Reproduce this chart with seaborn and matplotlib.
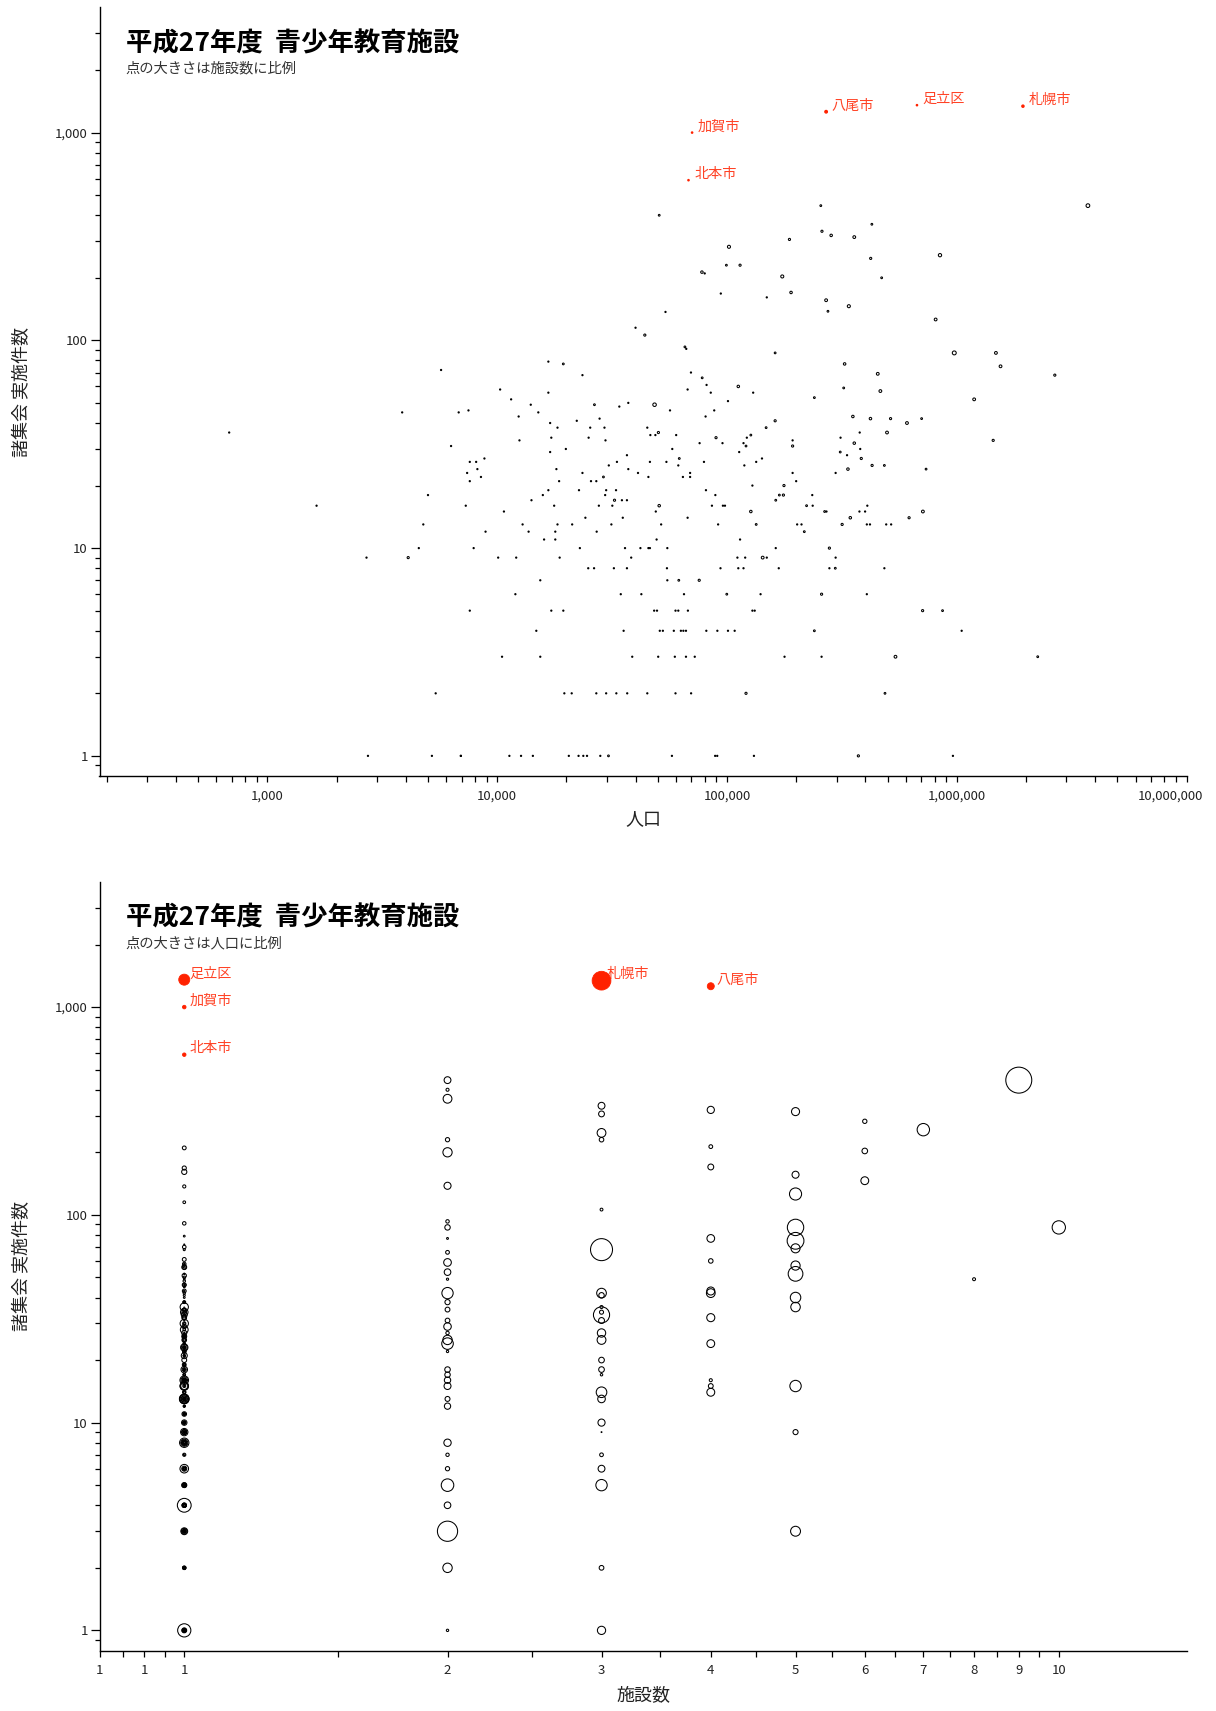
# 平成27年度 青少年教育施設 - 人口 / 施設数 と 諸集会 実施件数 の散布図 (2段)
import numpy as np
import pandas as pd
import matplotlib
matplotlib.use('Agg')
import matplotlib.pyplot as plt
from matplotlib.ticker import FixedLocator, FuncFormatter, NullFormatter
from matplotlib.transforms import ScaledTranslation
import seaborn as sns

# 施設数ごとの 人口(千人) と 諸集会 実施件数
pop_f1 = [16.7, 5.7, 23.5, 10.3, 16.7, 11.5, 14.0, 3.86, 6.8, 7.5, 12.4, 15.1, 22.2, 27.9,
          17.0, 18.3, 25.4, 29.3, 17.2, 25.0, 29.6, 12.5, 6.3, 17.0, 19.9, 8.8, 7.6, 8.1,
          8.2, 7.4, 8.5, 18.1, 23.5, 30.6,
          80, 94, 149, 54, 40, 66.5, 69.7, 81.5, 67.4, 85, 130, 34, 37.2, 56.5, 101, 88,
          80.7, 45, 46.4, 48.8, 60.1, 76, 95.6, 118, 122, 193, 312, 57.8, 36.7, 113, 333,
          142, 33.2, 46.2, 54.5, 79.4, 61.4, 119, 134, 37.2, 41, 45.5, 64.3, 69.1, 69.1,
          193, 297, 378, 380,
          7.6, 18.6, 25.6, 27.0, 5.0, 16.7, 15.8, 22.7, 29.8, 29.5, 14.1, 7.3, 17.7, 27.7,
          10.7, 24.2, 4.77, 12.9, 18.3, 21.2, 8.9, 13.7, 17.9, 27.1, 16.0, 17.9, 4.56, 7.9,
          22.9, 2.7, 10.1, 12.1, 18.7, 24.9, 26.4, 15.4, 12.0, 7.6, 17.2, 19.4, 14.8, 10.5,
          15.4, 5.4, 19.6, 21.1, 27.0, 29.8,
          2.74, 5.2, 6.95, 6.95, 11.3, 12.7, 14.3, 20.5, 22.6, 23.7, 24.6, 28.1, 131,
          200, 129, 32.9, 81, 89, 235, 34.9, 36.7, 31.7, 86, 96, 98, 236, 49, 271, 35.2,
          67.4, 31.4, 51.7, 91.5, 202, 211, 49.4, 114, 36, 42, 45.5, 46.2, 55, 163, 38.3,
          111, 120, 149, 297, 32.2, 36.7, 54.8, 93.7, 112, 118, 168, 279, 55, 34.5, 42.4,
          65, 140, 48.2, 49.6, 59.7, 61.4, 67.6, 129, 132, 35.5, 51, 52.6, 58.7, 63, 64.6,
          66.3, 81.3, 90.8, 101, 108, 38.7, 50.2, 59.3, 66.3, 72.4, 178, 258, 33, 36.8, 45,
          59.7, 69.8, 57.6, 88.8, 90.7,
          408, 377, 399, 406, 419, 493, 518, 484, 406, 1050, 962, 0.682, 1.637]
ev_f1 = [79, 72, 68, 58, 56, 52, 49, 45, 45, 46, 43, 45, 41, 42,
         40, 38, 38, 38, 34, 34, 33, 33, 31, 29, 30, 27, 26, 26,
         24, 23, 22, 24, 23, 25,
         210, 168, 161, 137, 115, 91, 70, 61, 58, 56, 56, 48, 50, 46, 51, 46,
         43, 38, 35, 35, 35, 32, 32, 32, 34, 33, 34, 30, 28, 29, 28,
         27, 26, 26, 26, 26, 25, 25, 26, 24, 23, 22, 22, 23, 22,
         23, 23, 36, 30,
         21, 21, 21, 21, 18, 19, 18, 19, 19, 18, 17, 16, 16, 16,
         15, 14, 13, 13, 13, 13, 12, 12, 12, 12, 11, 11, 10, 10,
         10, 9, 9, 9, 9, 8, 8, 7, 6, 5, 5, 5, 4, 3,
         3, 2, 2, 2, 2, 2,
         1, 1, 1, 1, 1, 1, 1, 1, 1, 1, 1, 1, 1,
         21, 20, 19, 19, 18, 18, 17, 17, 16, 16, 16, 16, 16, 15, 15, 14,
         14, 13, 13, 13, 13, 13, 11, 11, 10, 10, 10, 10, 10, 10, 9,
         9, 9, 9, 9, 8, 8, 8, 8, 8, 8, 8, 8, 7, 6, 6,
         6, 6, 5, 5, 5, 5, 5, 5, 5, 4, 4, 4, 4, 4, 4,
         4, 4, 4, 4, 4, 3, 3, 3, 3, 3, 3, 3, 2, 2, 2,
         2, 2, 1, 1, 1,
         16, 15, 15, 13, 13, 13, 13, 8, 6, 4, 1, 36, 16]

pop_f2 = [256, 50.7, 427, 99.4, 471, 275, 65.6, 162, 19.4, 78, 322, 240, 26.5, 703, 148,
          127, 121, 311, 62, 484, 735, 29.0, 169, 163, 222, 266, 134, 217, 296, 61.7,
          99.8, 867, 240, 2250, 487, 30.5]
ev_f2 = [445, 400, 362, 230, 200, 138, 93, 87, 77, 66, 59, 53, 49, 42, 38,
         35, 31, 29, 27, 25, 24, 22, 18, 17, 16, 15, 13, 12, 8, 7,
         6, 5, 4, 3, 2, 1]

pop_f3 = [259, 187, 422, 114, 43.9, 2670, 515, 162, 50.3, 89.6, 1440, 193, 384, 428, 177,
          176, 32.4, 620, 317, 279, 4.1, 75.7, 258, 710, 121, 373]
ev_f3 = [335, 306, 248, 230, 106, 68, 42, 41, 36, 34, 33, 31, 27, 25, 20,
         18, 17, 14, 13, 10, 9, 7, 6, 5, 2, 1]

pop_f4 = [284, 77.8, 190, 325, 112, 353, 421, 358, 336, 50.7, 127, 344]
ev_f4 = [320, 213, 170, 77, 60, 43, 42, 32, 24, 16, 15, 14]

pop_f5 = [358, 270, 809, 1480, 1550, 453, 465, 1190, 607, 497, 712, 143, 541]
ev_f5 = [314, 156, 126, 87, 75, 69, 57, 52, 40, 36, 15, 9, 3]

pop_f6 = [102, 174, 339]
ev_f6 = [282, 203, 146]

pop_f7, ev_f7 = [845], [257]
pop_f8, ev_f8 = [48.4], [49]
pop_f9, ev_f9 = [3720], [445]
pop_f10, ev_f10 = [975], [87]

# 赤で強調する自治体
hl_names = ['札幌市', '足立区', '八尾市', '加賀市', '北本市']
hl_fac = [3, 1, 4, 1, 1]
hl_pop_k = [1940, 671, 270, 70.5, 68]
hl_events = [1340, 1355, 1260, 1000, 590]

groups = [(1, pop_f1, ev_f1), (2, pop_f2, ev_f2), (3, pop_f3, ev_f3), (4, pop_f4, ev_f4),
          (5, pop_f5, ev_f5), (6, pop_f6, ev_f6), (7, pop_f7, ev_f7), (8, pop_f8, ev_f8),
          (9, pop_f9, ev_f9), (10, pop_f10, ev_f10)]
rows = []
for f, pops, evs in groups:
    for p, e in zip(pops, evs):
        rows.append((f, p * 1000, e))
df = pd.DataFrame(rows, columns=['施設数', '人口', '件数'])
hl = pd.DataFrame({'name': hl_names, '施設数': hl_fac,
                   '人口': np.array(hl_pop_k) * 1000, '件数': hl_events})

RED = '#ff2200'
FAC_K = 0.8        # pt^2 per facility
POP_K = 9.4e-5     # pt^2 per person

sns.set_theme(style='ticks')
plt.rcParams['font.family'] = ['Noto Sans CJK JP', 'DejaVu Sans']

fig = plt.figure(figsize=(12.16, 17.11), dpi=100)
W, H = 1216, 1711
left = 99.5 / W
width = (1186.6 - 99.5) / W
height = 768.5 / H
ax1 = fig.add_axes([left, 1 - 776 / H, width, height])
ax2 = fig.add_axes([left, 1 - 1650.5 / H, width, height])


def comma(v, pos=None):
    return '{:,.0f}'.format(v)


def style_axis(ax):
    ax.set_yscale('log')
    ax.set_ylim(0.8, 4000)
    ax.yaxis.set_major_locator(FixedLocator([1, 10, 100, 1000]))
    ax.yaxis.set_major_formatter(FuncFormatter(comma))
    yminor = [0.9] + [k * 10 ** e for e in range(0, 4) for k in range(2, 10) if k * 10 ** e < 4000]
    ax.yaxis.set_minor_locator(FixedLocator(yminor))
    ax.yaxis.set_minor_formatter(NullFormatter())
    for s in ['left', 'bottom']:
        ax.spines[s].set_color('black')
        ax.spines[s].set_linewidth(1.0)
    sns.despine(ax=ax)
    ax.tick_params(axis='y', which='major', length=6.5, width=0.9, color='black',
                   labelsize=9.5, labelcolor='#222222', pad=2)
    ax.tick_params(axis='y', which='minor', length=3.5, width=0.9, color='black')
    ax.tick_params(axis='x', which='both', length=4.5, width=0.9, color='black',
                   labelsize=9.5, labelcolor='#222222', pad=5)
    ax.set_ylabel('諸集会 実施件数', fontsize=13, color='#222222', va='center')
    ax.yaxis.set_label_coords(-0.0713, 0.5)
    ax.grid(False)
    ax.set_facecolor('white')


def label_points(ax, xcol):
    for _, r in hl.iterrows():
        ax.annotate(r['name'], (r[xcol], r['件数']), xytext=(4, 4.5),
                    textcoords='offset points', color=RED, fontsize=10.2,
                    ha='left', va='center', alpha=0.85)


# ---- 上段: 人口 vs 件数 (点の大きさ = 施設数)
sns.scatterplot(data=df, x='人口', y='件数', size='施設数', size_norm=(0, 10),
                sizes=(0, FAC_K * 10), facecolor='none', edgecolor='black',
                linewidth=0.75, legend=False, ax=ax1)
sns.scatterplot(data=hl, x='人口', y='件数', size='施設数', size_norm=(0, 10),
                sizes=(0, FAC_K * 10), color=RED, edgecolor=RED,
                linewidth=1.0, legend=False, ax=ax1)
ax1.set_xscale('log')
ax1.set_xlim(186, 1e7)
ax1.xaxis.set_major_locator(FixedLocator([1e3, 1e4, 1e5, 1e6, 1e7]))
ax1.xaxis.set_major_formatter(FuncFormatter(comma))
xminor = [k * 10 ** e for e in range(2, 7) for k in range(2, 10) if k * 10 ** e > 186]
ax1.xaxis.set_minor_locator(FixedLocator(xminor))
ax1.xaxis.set_minor_formatter(NullFormatter())
style_axis(ax1)
ax1.set_xlabel('人口', fontsize=13, color='#222222', va='center')
ax1.xaxis.set_label_coords(0.5, -43 / 768.5)
label_points(ax1, '人口')

# ---- 下段: 施設数 vs 件数 (点の大きさ = 人口)
sns.scatterplot(data=df, x='施設数', y='件数', size='人口', size_norm=(0, 4e6),
                sizes=(0, POP_K * 4e6), facecolor='none', edgecolor='black',
                linewidth=0.75, legend=False, ax=ax2)
sns.scatterplot(data=hl, x='施設数', y='件数', size='人口', size_norm=(0, 4e6),
                sizes=(0, POP_K * 4e6), color=RED, edgecolor=RED,
                linewidth=0.6, legend=False, ax=ax2)
ax2.set_xscale('log')
ax2.set_xlim(0.8, 14)
ax2.xaxis.set_major_locator(FixedLocator([0.8, 0.9] + list(range(1, 11))))
ax2.xaxis.set_major_formatter(FuncFormatter(comma))
ax2.xaxis.set_minor_locator(FixedLocator([0.85, 0.95] + [k + 0.5 for k in range(1, 10)]))
ax2.xaxis.set_minor_formatter(NullFormatter())
style_axis(ax2)
ax2.set_xlabel('施設数', fontsize=13, color='#222222', va='center')
ax2.xaxis.set_label_coords(0.5, -44.5 / 768.5)
label_points(ax2, '施設数')

# 右端の目盛りラベルを画像内に収める
last = ax1.xaxis.get_major_ticks()[-1].label1
last.set_transform(last.get_transform() + ScaledTranslation(-0.16, 0, fig.dpi_scale_trans))

# タイトル
for ytitle, ysub, sub in [(51, 72, '点の大きさは施設数に比例'), (925, 947, '点の大きさは人口に比例')]:
    fig.text(125.5 / W, 1 - ytitle / H, '平成27年度  青少年教育施設', fontsize=19,
             fontweight='bold', color='black', va='baseline', ha='left')
    fig.text(125.5 / W, 1 - ysub / H, sub, fontsize=10.3, color='#333333',
             va='baseline', ha='left')

fig.savefig('out.png', dpi=100, facecolor='white')
